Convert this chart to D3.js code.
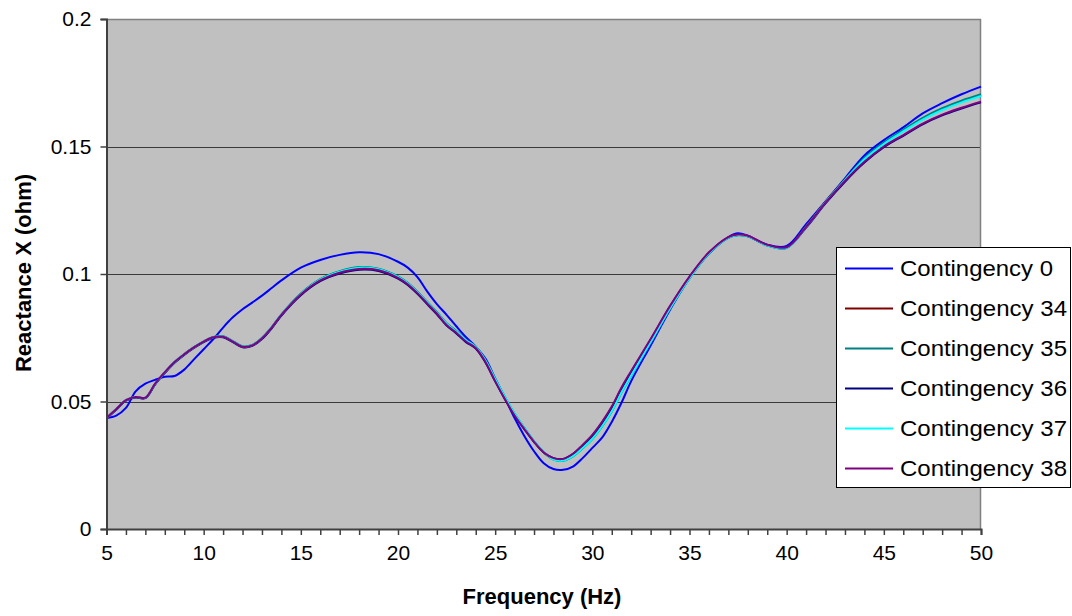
<!DOCTYPE html>
<html>
<head>
<meta charset="utf-8">
<script src="https://cdn.jsdelivr.net/npm/d3@7"></script>
<style>
  html, body { margin: 0; padding: 0; background: #fff; }
  svg { display: block; font-family: "Liberation Sans", Arial, Helvetica, sans-serif; }
</style>
</head>
<body>
<svg id="chart" width="1072" height="616"></svg>
<script>
// Frequency sweep points (Hz)
const freq = [5, 5.5, 6, 6.5, 7, 7.5, 8, 8.5, 9, 9.5, 10, 10.5, 11, 11.5, 12, 12.5, 13, 13.5, 14,
  15, 16, 17, 18, 19, 20, 20.5, 21, 21.5, 22, 22.5, 23, 23.5, 24, 24.5, 25, 25.5, 26, 26.5, 27,
  27.5, 28, 28.5, 29, 29.5, 30, 30.5, 31, 31.5, 32, 33, 34, 35, 36, 37, 37.5, 38, 39, 40, 41, 42,
  43, 44, 45, 46, 47, 48, 49, 50];

// Reactance X (ohm) for each contingency
const c0 = [0.0435, 0.0445, 0.0475, 0.0540, 0.0570, 0.0585, 0.0597, 0.0600, 0.0625, 0.0665, 0.0705,
  0.0745, 0.0790, 0.0830, 0.0862, 0.0888, 0.0915, 0.0945, 0.0975, 0.1025, 0.1055, 0.1075, 0.1085,
  0.1078, 0.1048, 0.1025, 0.0988, 0.0932, 0.0882, 0.0840, 0.0795, 0.0752, 0.0715, 0.0668, 0.0590,
  0.0515, 0.0435, 0.0365, 0.0305, 0.0258, 0.0235, 0.0232, 0.0245, 0.0278, 0.0318, 0.0358, 0.0420,
  0.0495, 0.0580, 0.0720, 0.0860, 0.0985, 0.1080, 0.1145, 0.1160, 0.1150, 0.1115, 0.1110, 0.1195,
  0.1285, 0.1375, 0.1465, 0.1525, 0.1575, 0.1630, 0.1670, 0.1705, 0.1735];

const c34 = [0.0435, 0.0470, 0.0505, 0.0518, 0.0514, 0.0568, 0.0613, 0.0654, 0.0685, 0.0712, 0.0735,
  0.0752, 0.0755, 0.0736, 0.0716, 0.0721, 0.0748, 0.0790, 0.0840, 0.0922, 0.0978, 0.1009, 0.1025,
  0.1019, 0.0989, 0.0964, 0.0929, 0.0889, 0.0849, 0.0805, 0.0774, 0.0739, 0.0713, 0.0660, 0.0586,
  0.0516, 0.0450, 0.0395, 0.0343, 0.0300, 0.0274, 0.0270, 0.0287, 0.0320, 0.0356, 0.0405, 0.0465,
  0.0540, 0.0606, 0.0735, 0.0868, 0.0985, 0.1082, 0.1143, 0.1153, 0.1149, 0.1113, 0.1103, 0.1187,
  0.1283, 0.1370, 0.1452, 0.1513, 0.1562, 0.1609, 0.1647, 0.1677, 0.1702];

const c35 = [0.0435, 0.0470, 0.0505, 0.0518, 0.0515, 0.0568, 0.0614, 0.0655, 0.0686, 0.0713, 0.0736,
  0.0753, 0.0756, 0.0737, 0.0717, 0.0722, 0.0750, 0.0792, 0.0842, 0.0924, 0.0980, 0.1011, 0.1027,
  0.1021, 0.0991, 0.0966, 0.0931, 0.0891, 0.0851, 0.0807, 0.0776, 0.0741, 0.0715, 0.0662, 0.0588,
  0.0518, 0.0452, 0.0397, 0.0345, 0.0302, 0.0272, 0.0268, 0.0285, 0.0317, 0.0353, 0.0402, 0.0461,
  0.0535, 0.0602, 0.0732, 0.0865, 0.0983, 0.1080, 0.1142, 0.1152, 0.1148, 0.1112, 0.1102, 0.1186,
  0.1282, 0.1370, 0.1455, 0.1515, 0.1565, 0.1612, 0.1650, 0.1680, 0.1705];

const c36 = [0.0433, 0.0468, 0.0503, 0.0516, 0.0513, 0.0567, 0.0612, 0.0652, 0.0683, 0.0710, 0.0733,
  0.0750, 0.0752, 0.0733, 0.0713, 0.0718, 0.0745, 0.0787, 0.0837, 0.0917, 0.0972, 0.1002, 0.1017,
  0.1012, 0.0982, 0.0957, 0.0922, 0.0882, 0.0842, 0.0798, 0.0767, 0.0733, 0.0708, 0.0653, 0.0579,
  0.0509, 0.0445, 0.0392, 0.0342, 0.0300, 0.0278, 0.0275, 0.0294, 0.0328, 0.0366, 0.0416, 0.0476,
  0.0551, 0.0616, 0.0742, 0.0872, 0.0988, 0.1083, 0.1143, 0.1153, 0.1148, 0.1113, 0.1103, 0.1182,
  0.1277, 0.1362, 0.1437, 0.1497, 0.1542, 0.1587, 0.1622, 0.1649, 0.1673];

const c37 = [0.0435, 0.0470, 0.0505, 0.0518, 0.0515, 0.0569, 0.0614, 0.0655, 0.0685, 0.0712, 0.0735,
  0.0752, 0.0755, 0.0736, 0.0716, 0.0721, 0.0749, 0.0791, 0.0841, 0.0922, 0.0978, 0.1009, 0.1025,
  0.1019, 0.0989, 0.0964, 0.0929, 0.0889, 0.0849, 0.0805, 0.0774, 0.0740, 0.0714, 0.0661, 0.0588,
  0.0518, 0.0452, 0.0397, 0.0345, 0.0302, 0.0272, 0.0269, 0.0286, 0.0318, 0.0354, 0.0403, 0.0462,
  0.0536, 0.0603, 0.0733, 0.0866, 0.0984, 0.1081, 0.1142, 0.1152, 0.1148, 0.1112, 0.1102, 0.1185,
  0.1281, 0.1368, 0.1450, 0.1510, 0.1559, 0.1605, 0.1643, 0.1673, 0.1698];

const c38 = [0.0435, 0.0470, 0.0505, 0.0518, 0.0515, 0.0570, 0.0615, 0.0655, 0.0685, 0.0712, 0.0735,
  0.0752, 0.0754, 0.0735, 0.0715, 0.0720, 0.0748, 0.0790, 0.0840, 0.0920, 0.0975, 0.1005, 0.1020,
  0.1015, 0.0985, 0.0960, 0.0925, 0.0885, 0.0845, 0.0800, 0.0770, 0.0735, 0.0710, 0.0655, 0.0580,
  0.0510, 0.0445, 0.0392, 0.0342, 0.0300, 0.0278, 0.0275, 0.0295, 0.0330, 0.0369, 0.0420, 0.0480,
  0.0555, 0.0620, 0.0745, 0.0875, 0.0990, 0.1085, 0.1145, 0.1155, 0.1150, 0.1115, 0.1105, 0.1185,
  0.1280, 0.1365, 0.1440, 0.1500, 0.1545, 0.1590, 0.1625, 0.1652, 0.1676];

const seriesNames = ["Contingency 0", "Contingency 34", "Contingency 35",
  "Contingency 36", "Contingency 37", "Contingency 38"];
const seriesValues = [c0, c34, c35, c36, c37, c38];
const seriesColors = ["#0000FF", "#800000", "#008080", "#000080", "#00FFFF", "#800080"];

const yTicks = [0, 0.05, 0.1, 0.15, 0.2];
const yTickLabels = ["0", "0.05", "0.1", "0.15", "0.2"];
const xMajorTicks = [5, 10, 15, 20, 25, 30, 35, 40, 45, 50];
const xMinorTicks = d3.range(5, 51, 1);

const svg = d3.select("#chart");
const plot = { left: 106.5, right: 981, top: 19, bottom: 529 };

const x = d3.scaleLinear().domain([5, 50]).range([plot.left, plot.right]);
const y = d3.scaleLinear().domain([0, 0.2]).range([plot.bottom, plot.top]);

// Plot background
svg.append("rect")
  .attr("x", plot.left).attr("y", plot.top)
  .attr("width", plot.right - plot.left).attr("height", plot.bottom - plot.top)
  .attr("fill", "#C0C0C0");

// Horizontal gridlines
svg.append("g")
  .selectAll("line")
  .data(yTicks.filter(v => v > 0 && v < 0.2))
  .join("line")
  .attr("x1", plot.left).attr("x2", plot.right)
  .attr("y1", d => Math.round(y(d)) + 0.5).attr("y2", d => Math.round(y(d)) + 0.5)
  .attr("stroke", "#3a3a3a").attr("stroke-width", 1);

// Top and right border of the plot area
svg.append("path")
  .attr("d", `M${plot.left},${plot.top + 0.5}H${plot.right - 0.5}V${plot.bottom}`)
  .attr("fill", "none").attr("stroke", "#808080").attr("stroke-width", 1.5);

// Data lines
const line = d3.line()
  .x((d, i) => x(freq[i]))
  .y(d => y(d))
  .curve(d3.curveCatmullRom.alpha(0.5));

svg.append("g")
  .selectAll("path")
  .data(seriesValues)
  .join("path")
  .attr("d", d => line(d))
  .attr("fill", "none")
  .attr("stroke", (d, i) => seriesColors[i])
  .attr("stroke-width", 2)
  .attr("stroke-linejoin", "round");

// Y axis
const yAxis = d3.axisLeft(y)
  .tickValues(yTicks)
  .tickFormat((d, i) => yTickLabels[i])
  .tickSize(6)
  .tickPadding(9);

const gy = svg.append("g")
  .attr("transform", `translate(${plot.left},0)`)
  .call(yAxis);
gy.select(".domain").attr("stroke", "#404040").attr("stroke-width", 2);
gy.selectAll(".tick line").attr("stroke", "#404040").attr("stroke-width", 1.5);
gy.selectAll(".tick text")
  .attr("font-size", 21)
  .attr("fill", "#000")
  .attr("font-family", "'Liberation Sans', Arial, sans-serif");

// X axis: minor ticks every 1 Hz, labels every 5 Hz
const xAxis = d3.axisBottom(x)
  .tickValues(xMinorTicks)
  .tickFormat(d => xMajorTicks.includes(d) ? String(d) : "")
  .tickSize(6)
  .tickPadding(10);

const gx = svg.append("g")
  .attr("transform", `translate(0,${plot.bottom})`)
  .call(xAxis);
gx.select(".domain").attr("stroke", "#404040").attr("stroke-width", 2);
gx.selectAll(".tick line").attr("stroke", "#404040").attr("stroke-width", 1.5);
gx.selectAll(".tick text")
  .attr("font-size", 21)
  .attr("fill", "#000")
  .attr("font-family", "'Liberation Sans', Arial, sans-serif");

// Axis titles
svg.append("text")
  .attr("x", 542).attr("y", 604)
  .attr("text-anchor", "middle")
  .attr("font-size", 22).attr("font-weight", "bold")
  .text("Frequency (Hz)");

svg.append("text")
  .attr("transform", "translate(31,273) rotate(-90)")
  .attr("text-anchor", "middle")
  .attr("font-size", 22).attr("font-weight", "bold")
  .text("Reactance X (ohm)");

// Legend
const legend = svg.append("g");
legend.append("rect")
  .attr("x", 836.5).attr("y", 247.5)
  .attr("width", 234).attr("height", 240)
  .attr("fill", "#fff").attr("stroke", "#000").attr("stroke-width", 1);

const rowY = i => 268.5 + i * 40;
legend.selectAll("line.key")
  .data(seriesNames)
  .join("line")
  .attr("class", "key")
  .attr("x1", 845).attr("x2", 893)
  .attr("y1", (d, i) => rowY(i)).attr("y2", (d, i) => rowY(i))
  .attr("stroke", (d, i) => seriesColors[i])
  .attr("stroke-width", 2);

legend.selectAll("text.label")
  .data(seriesNames)
  .join("text")
  .attr("class", "label")
  .attr("x", 900)
  .attr("y", (d, i) => rowY(i))
  .attr("dy", "0.36em")
  .attr("font-size", 22)
  .attr("fill", "#000")
  .attr("textLength", (d, i) => i === 0 ? 153 : 167)
  .attr("lengthAdjust", "spacingAndGlyphs")
  .text(d => d);
</script>
</body>
</html>
